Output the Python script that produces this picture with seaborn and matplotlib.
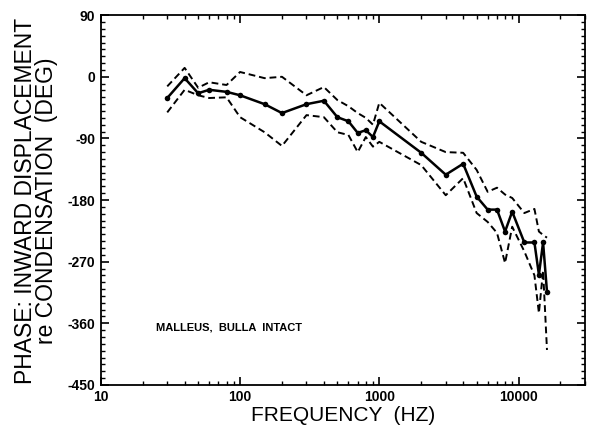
import numpy as np
import pandas as pd
import matplotlib
matplotlib.use("Agg")
import matplotlib.pyplot as plt
import seaborn as sns
from matplotlib.ticker import MultipleLocator, LogLocator, NullFormatter

# frequencies (Hz) and phase values (deg)
freq = [30, 40, 50, 60, 80, 100, 150, 200, 300, 400, 500, 600, 700, 800, 900,
        1000, 2000, 3000, 4000, 5000, 6000, 7000, 8000, 9000, 11000, 13000,
        14000, 15000, 16000]
phase_mean = [-31, -2, -24, -19, -22, -27, -40, -53, -40, -35, -59, -65, -82, -78, -88,
              -65, -111, -143, -127, -175, -194, -194, -226, -197, -242, -242,
              -289, -242, -314]
phase_upper = [-14, 13, -16, -8, -12, 7, -2, 0, -27, -15, -34, -43, -53, -60, -70,
               -38, -95, -110, -111, -136, -168, -162, -172, -177, -199, -193,
               -226, -231, -235]
phase_lower = [-52, -19, -27, -31, -30, -59, -81, -101, -56, -59, -81, -85, -110, -88, -102,
               -95, -129, -173, -148, -199, -212, -228, -272, -219, -255, -290,
               -345, -283, -399]

y_ticks = [-450, -360, -270, -180, -90, 0, 90]
x_ticks = [10, 100, 1000, 10000]
x_ticklabels = ["10", "100", "1000", "10000"]

df = pd.DataFrame({"freq": freq, "mean": phase_mean,
                   "upper": phase_upper, "lower": phase_lower})

sns.set_style("ticks")
plt.rcParams['font.family'] = ['Liberation Sans', 'DejaVu Sans']
plt.rcParams['axes.unicode_minus'] = False
plt.rcParams['text.color'] = 'black'
plt.rcParams['axes.labelcolor'] = 'black'

fig, ax = plt.subplots(figsize=(6, 4.46), dpi=100)
fig.subplots_adjust(left=0.168, right=0.975, top=0.966, bottom=0.137)

# dashed envelope lines
for col in ["upper", "lower"]:
    sns.lineplot(data=df, x="freq", y=col, ax=ax, color="black", lw=1.4,
                 linestyle=(0, (3.5, 2)))
# mean line with markers
sns.lineplot(data=df, x="freq", y="mean", ax=ax, color="black", lw=1.8,
             marker="o", markersize=4, markeredgewidth=0)

ax.set_xscale("log")
ax.set_xlim(10, 30000)
ax.set_ylim(-450, 90)
ax.set_xticks(x_ticks, labels=x_ticklabels)
ax.xaxis.set_minor_locator(LogLocator(base=10, subs=np.arange(2, 10)))
ax.xaxis.set_minor_formatter(NullFormatter())
ax.set_yticks(y_ticks)
ax.yaxis.set_minor_locator(MultipleLocator(10))

for s in ax.spines.values():
    s.set_linewidth(1.3)
    s.set_color("black")
ax.tick_params(which="both", direction="in", top=True, right=True,
               colors="black", labelcolor="black")
ax.tick_params(which="major", length=6, width=1.2, labelsize=10, pad=4)
ax.tick_params(which="minor", length=3, width=1.0)
for lab in ax.get_xticklabels() + ax.get_yticklabels():
    lab.set_fontweight("bold")

ax.set_xlabel("FREQUENCY  (HZ)", fontsize=15, labelpad=1, color="black")
ax.set_ylabel("")
fig.text(0.06, 0.55, "PHASE: INWARD DISPLACEMENT\nre CONDENSATION  (DEG)",
         rotation=90, ha="center", va="center", multialignment="center",
         fontsize=16.5, linespacing=0.9, color="black")

ax.text(25, -366, "MALLEUS,  BULLA  INTACT", fontsize=8, fontweight="bold",
        ha="left", va="center", color="black")

fig.savefig("out.png", dpi=100)
